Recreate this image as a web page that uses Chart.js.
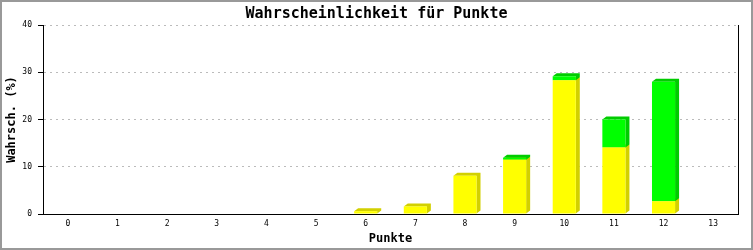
<!DOCTYPE html>
<html>
<head>
<meta charset="utf-8">
<script src="https://cdn.jsdelivr.net/npm/chart.js@4.4.0/dist/chart.umd.min.js"></script>
<style>
  body { margin: 0; background: #fff; }
  canvas { display: block; }
</style>
</head>
<body>
<canvas id="grafico" width="753" height="250"></canvas>
<script>
// Daten
const punkte = ['0', '1', '2', '3', '4', '5', '6', '7', '8', '9', '10', '11', '12', '13'];
const gelbWerte = [0, 0, 0, 0, 0, 0, 0.6, 1.6, 8.1, 11.5, 28.3, 14.1, 2.7, 0];
const gruenWerte = [0, 0, 0, 0, 0, 0, 0, 0, 0, 0.4, 0.85, 5.9, 25.3, 0];
const yTicks = [0, 10, 20, 30, 40];

const frontFarben = ['#ffff00', '#00ff00'];
const seitenFarben = ['#d2d000', '#00cc00'];

// 3D-Seiten der Balken hinter die Vorderseite zeichnen
const tiefe3d = {
    id: 'tiefe3d',
    beforeDatasetsDraw(chart) {
        const ctx = chart.ctx;
        const dx = 4, dy = 3;
        chart.data.datasets.forEach((ds, i) => {
            const meta = chart.getDatasetMeta(i);
            ctx.save();
            ctx.fillStyle = seitenFarben[i];
            meta.data.forEach(bar => {
                const p = bar.getProps(['x', 'y', 'base', 'width'], true);
                const l = p.x - p.width / 2, r = p.x + p.width / 2;
                const oben = Math.min(p.y, p.base), unten = Math.max(p.y, p.base);
                if (unten - oben < 0.5) return;
                ctx.beginPath();
                ctx.moveTo(l, oben);
                ctx.lineTo(l + dx, oben - dy);
                ctx.lineTo(r + dx, oben - dy);
                ctx.lineTo(r + dx, unten - dy);
                ctx.lineTo(r, unten);
                ctx.lineTo(r, oben);
                ctx.closePath();
                ctx.fill();
            });
            ctx.restore();
        });
    },
    afterDraw(chart) {
        const ctx = chart.ctx;
        ctx.save();
        // grauer Rand ums Bild
        ctx.strokeStyle = '#999';
        ctx.lineWidth = 2;
        ctx.strokeRect(1, 1, chart.width - 2, chart.height - 2);
        ctx.restore();
    }
};

const monoFont = 'DejaVu Sans Mono';

const ctx = document.getElementById('grafico').getContext('2d');
new Chart(ctx, {
    type: 'bar',
    data: {
        labels: punkte,
        datasets: [
            {
                data: gelbWerte,
                backgroundColor: frontFarben[0],
                borderWidth: 0,
                barPercentage: 0.465,
                categoryPercentage: 1
            },
            {
                data: gruenWerte,
                backgroundColor: frontFarben[1],
                borderWidth: 0,
                barPercentage: 0.465,
                categoryPercentage: 1
            }
        ]
    },
    options: {
        responsive: false,
        animation: false,
        layout: { padding: 0 },
        plugins: {
            legend: { display: false },
            tooltip: { enabled: false },
            title: {
                display: true,
                text: 'Wahrscheinlichkeit für Punkte',
                color: '#000',
                font: { family: monoFont, size: 15, weight: 'bold', lineHeight: 1.2 },
                padding: { top: 5, bottom: 2 }
            }
        },
        scales: {
            x: {
                stacked: true,
                grid: { display: false, drawTicks: false, tickLength: 0 },
                border: { color: '#000', width: 1 },
                ticks: {
                    color: '#000',
                    padding: 5,
                    maxRotation: 0,
                    font: { family: monoFont, size: 8 }
                },
                title: {
                    display: true,
                    text: 'Punkte',
                    color: '#000',
                    font: { family: monoFont, size: 12, weight: 'bold', lineHeight: 1.2 },
                    padding: { top: 0, bottom: 4 }
                },
                afterFit(scale) { scale.height = 36; }
            },
            y: {
                stacked: true,
                min: 0,
                max: 40,
                afterBuildTicks(scale) { scale.ticks = yTicks.map(v => ({ value: v })); },
                grid: {
                    color: c => (c.tick && c.tick.value === 0) ? 'rgba(0,0,0,0)' : '#bbbbbb',
                    tickColor: '#000',
                    tickLength: 5,
                    tickBorderDash: []
                },
                border: { color: '#000', width: 1, dash: [2, 4] },
                ticks: {
                    color: '#000',
                    padding: 6,
                    font: { family: monoFont, size: 8 }
                },
                title: {
                    display: true,
                    text: 'Wahrsch. (%)',
                    color: '#000',
                    font: { family: monoFont, size: 12, weight: 'bold', lineHeight: 1.2 },
                    padding: { top: 5, bottom: 0 }
                },
                afterFit(scale) { scale.width = 43; }
            },
            // rechte Rahmenlinie des Plotbereichs
            yRechts: {
                position: 'right',
                display: true,
                min: 0,
                max: 40,
                grid: { display: false, drawTicks: false },
                ticks: { display: false },
                border: { color: '#000', width: 1 },
                afterFit(scale) { scale.width = 15; }
            }
        }
    },
    plugins: [tiefe3d]
});
</script>
</body>
</html>
